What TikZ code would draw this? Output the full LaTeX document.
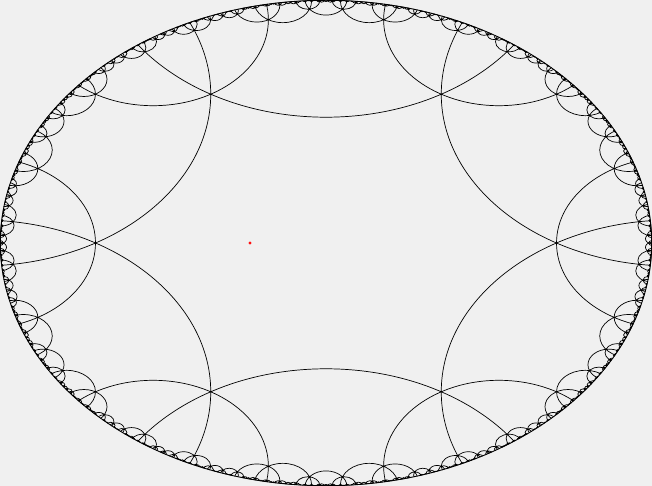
\documentclass[tikz,border=0pt]{standalone}
\definecolor{bgc}{HTML}{F0F0F0}
\definecolor{dotred}{HTML}{FF1010}
\ExplSyntaxOn
\fp_new:N \l_hyp_p_fp
\fp_new:N \l_hyp_k_fp
\fp_new:N \l_hyp_r_fp
\fp_new:N \l_hyp_bx_fp
\fp_new:N \l_hyp_by_fp
\bool_new:N \l_hyp_ok_bool
\tl_new:N \g_hyp_path_tl
\fp_const:Nn \c_hyp_min_fp { 0.003 }
\int_step_inline:nn { 6 }
  {
    \fp_const:cn { c_hyp_cx_#1_fp } { sqrt(1.5) * cosd( 30 + 60*(#1-1) ) }
    \fp_const:cn { c_hyp_cy_#1_fp } { sqrt(1.5) * sind( 30 + 60*(#1-1) ) }
  }
\cs_new_protected:Npn \hyp_visit:nnn #1#2#3
  {
    \tl_gput_right:Nx \g_hyp_path_tl
      {
        ( \fp_eval:n { round(326*(#1),4) } pt , \fp_eval:n { round(243*(#2),4) } pt )
        ~ ellipse ~ [ x~radius = \fp_eval:n { round(326*(#3),4) } pt ,
                      y~radius = \fp_eval:n { round(243*(#3),4) } pt ] ~
      }
    \hyp_child:nnnn {#1}{#2}{#3}{1}
    \hyp_child:nnnn {#1}{#2}{#3}{2}
    \hyp_child:nnnn {#1}{#2}{#3}{3}
    \hyp_child:nnnn {#1}{#2}{#3}{4}
    \hyp_child:nnnn {#1}{#2}{#3}{5}
    \hyp_child:nnnn {#1}{#2}{#3}{6}
  }
\cs_new_protected:Npn \hyp_child:nnnn #1#2#3#4
  {
    \fp_set:Nn \l_hyp_p_fp
      { 2.5 - 2 * ( (#1) * \use:c { c_hyp_cx_#4_fp } + (#2) * \use:c { c_hyp_cy_#4_fp } ) }
    \fp_compare:nNnT { abs(\l_hyp_p_fp) } > { 0.5000001 }
      {
        \fp_set:Nn \l_hyp_k_fp { 0.5 / \l_hyp_p_fp }
        \fp_set:Nn \l_hyp_r_fp { abs(\l_hyp_k_fp) * (#3) }
        \fp_compare:nNnT \l_hyp_r_fp > \c_hyp_min_fp
          {
            \fp_set:Nn \l_hyp_bx_fp
              { \use:c { c_hyp_cx_#4_fp } + \l_hyp_k_fp * ( (#1) - \use:c { c_hyp_cx_#4_fp } ) }
            \fp_set:Nn \l_hyp_by_fp
              { \use:c { c_hyp_cy_#4_fp } + \l_hyp_k_fp * ( (#2) - \use:c { c_hyp_cy_#4_fp } ) }
            \bool_set_true:N \l_hyp_ok_bool
            \int_step_inline:nn { #4 - 1 }
              {
                \fp_compare:nNnT
                  { abs( 2.5 - 2 * ( \l_hyp_bx_fp * \use:c { c_hyp_cx_##1_fp }
                                   + \l_hyp_by_fp * \use:c { c_hyp_cy_##1_fp } ) ) }
                  < { 0.4999999 }
                  { \bool_set_false:N \l_hyp_ok_bool }
              }
            \bool_if:NT \l_hyp_ok_bool
              {
                \use:x
                  {
                    \hyp_visit:nnn
                      { \fp_use:N \l_hyp_bx_fp }
                      { \fp_use:N \l_hyp_by_fp }
                      { \fp_use:N \l_hyp_r_fp }
                  }
              }
          }
      }
  }
\int_step_inline:nn { 6 }
  {
    \use:x
      {
        \hyp_visit:nnn
          { \fp_use:c { c_hyp_cx_#1_fp } }
          { \fp_use:c { c_hyp_cy_#1_fp } }
          { \fp_eval:n { sqrt(0.5) } }
      }
  }
\cs_new:Npn \hyppath { \g_hyp_path_tl }
\ExplSyntaxOff
\tikzset{
  geo/.style={draw=black, line width=0.7pt},
  rim/.style={draw=black, line width=0.9pt}
}
\begin{document}
\begin{tikzpicture}
\useasboundingbox (-326pt,-243pt) rectangle (326pt,243pt);
\fill[bgc] (-326pt,-243pt) rectangle (326pt,243pt);
\begin{scope}
  \clip (0,0) ellipse [x radius=326pt, y radius=243pt];
  \path[geo] \hyppath;
\end{scope}
\path[rim] (0,0) ellipse [x radius=325.7pt, y radius=242.7pt];
\fill[dotred] (-76pt,0pt) circle [radius=1.6pt];
\end{tikzpicture}
\end{document}
